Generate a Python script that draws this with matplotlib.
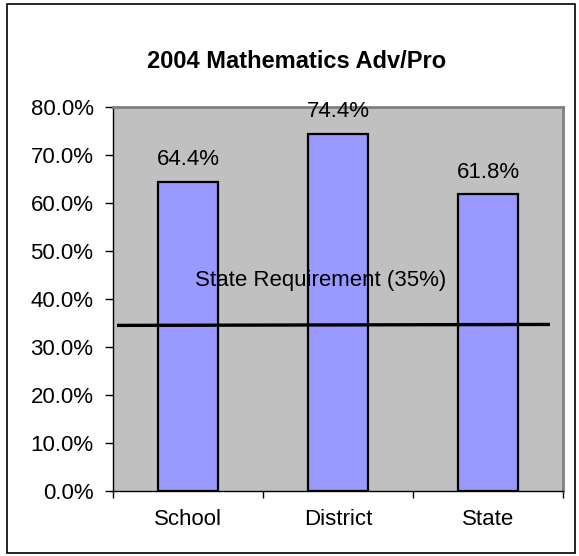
import numpy as np
import matplotlib.pyplot as plt
from matplotlib.patches import Rectangle
from matplotlib.ticker import FuncFormatter

plt.rcParams['font.family'] = ['Liberation Sans', 'DejaVu Sans']

categories = ['School', 'District', 'State']
values = [64.4, 74.4, 61.8]
requirement = 35
requirement_label = 'State Requirement (35%)'
title = '2004 Mathematics Adv/Pro'

fig = plt.figure(figsize=(5.79, 5.56), dpi=100)
fig.patch.set_facecolor('white')
fig.add_artist(Rectangle((7 / 579, 3 / 556), 568 / 579, 549 / 556,
                         transform=fig.transFigure, fill=False,
                         edgecolor='black', linewidth=1.2))

ax = fig.add_axes([113 / 579, 65 / 556, 450 / 579, 384 / 556])
ax.set_facecolor('#C0C0C0')

x = np.arange(len(categories))
bars = ax.bar(x, values, width=0.4, color='#9999FF', edgecolor='black',
              linewidth=1.6, zorder=2)

for xi, v in zip(x, values):
    ax.annotate(f'{v:.1f}%', (xi, v), xytext=(0, 16), textcoords='offset points',
                ha='center', va='center', fontsize=16)

ax.plot([-0.473, 2.413], [requirement - 0.5, requirement - 0.3],
        color='black', linewidth=2.4, zorder=3, solid_capstyle='butt')
ax.text(0.887, 43.9, requirement_label, ha='center', va='center',
        fontsize=16, zorder=4)

ax.set_xlim(-0.5, len(categories) - 0.5)
ax.set_ylim(0, 80)
ax.set_yticks(np.arange(0, 81, 10))
ax.yaxis.set_major_formatter(FuncFormatter(lambda v, p: f'{v:.1f}%'))
ax.set_xticks(x)
ax.set_xticklabels(categories)
ax.set_xticks(np.arange(-0.5, len(categories)), minor=True)
ax.tick_params(axis='x', which='major', length=0, pad=13, labelsize=16)
ax.tick_params(axis='x', which='minor', length=5, width=1, direction='out')
ax.tick_params(axis='y', length=6, width=1, direction='out', pad=8, labelsize=16)

for side in ['top', 'right']:
    ax.spines[side].set_color('#808080')
    ax.spines[side].set_linewidth(2)
for side in ['left', 'bottom']:
    ax.spines[side].set_color('black')
    ax.spines[side].set_linewidth(1)

fig.text(297 / 579, 1 - 62 / 556, title, ha='center', va='center',
         fontsize=17, fontweight='bold')

fig.savefig('out.png', dpi=100)
